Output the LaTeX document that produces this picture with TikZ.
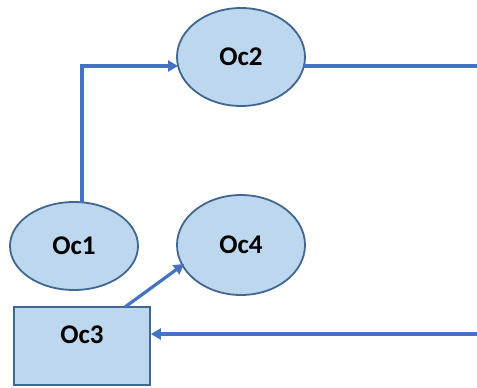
\documentclass[tikz,border=0pt]{standalone}
\usepackage{fontspec}
\setmainfont{Carlito}
\usetikzlibrary{arrows.meta,shapes.geometric}
\definecolor{nodefill}{HTML}{BDD7EE}
\definecolor{nodeline}{HTML}{3F6791}
\definecolor{conn}{HTML}{4472C4}
\begin{document}
\begin{tikzpicture}[x=1pt,y=-1pt,
  oval/.style={ellipse, draw=nodeline, fill=nodefill, line width=1.8pt, inner sep=0pt, font=\fontsize{27}{30}\selectfont\bfseries},
  boxnode/.style={rectangle, draw=nodeline, fill=nodefill, line width=1.8pt, inner sep=0pt},
  lbl/.style={font=\fontsize{27}{30}\selectfont\bfseries, inner sep=0pt},
  conline/.style={draw=conn, line width=3.2pt},
  arr/.style={conline, -{Triangle[length=10pt,width=11pt]}}]
\useasboundingbox (0,0) rectangle (477,388);
\node[oval, minimum width=128, minimum height=98] (oc2) at (241,57) {Oc2};
\node[oval, minimum width=128, minimum height=88] (oc1) at (74,246) {Oc1};
\node[oval, minimum width=128, minimum height=100] (oc4) at (241,245) {Oc4};
\node[boxnode, minimum width=136, minimum height=78] (oc3) at (82,346) {};
\node[lbl] (oc3t) at (82,335) {Oc3};
\coordinate (r1) at (477,66);
\coordinate (r2) at (477,334);
\coordinate (bend) at (82,66);
\coordinate (s1) at (82,203);
\coordinate (e2) at (178,66);
\coordinate (w2) at (304,66);
\coordinate (s3) at (125,307);
\coordinate (e4) at (184,264);
\draw[arr] (s1) -- (bend) -- (e2);
\draw[conline] (w2) -- (r1);
\draw[arr] (r2) -- (r2 -| oc3.east);
\draw[arr] (s3) -- (e4);
\end{tikzpicture}
\end{document}
